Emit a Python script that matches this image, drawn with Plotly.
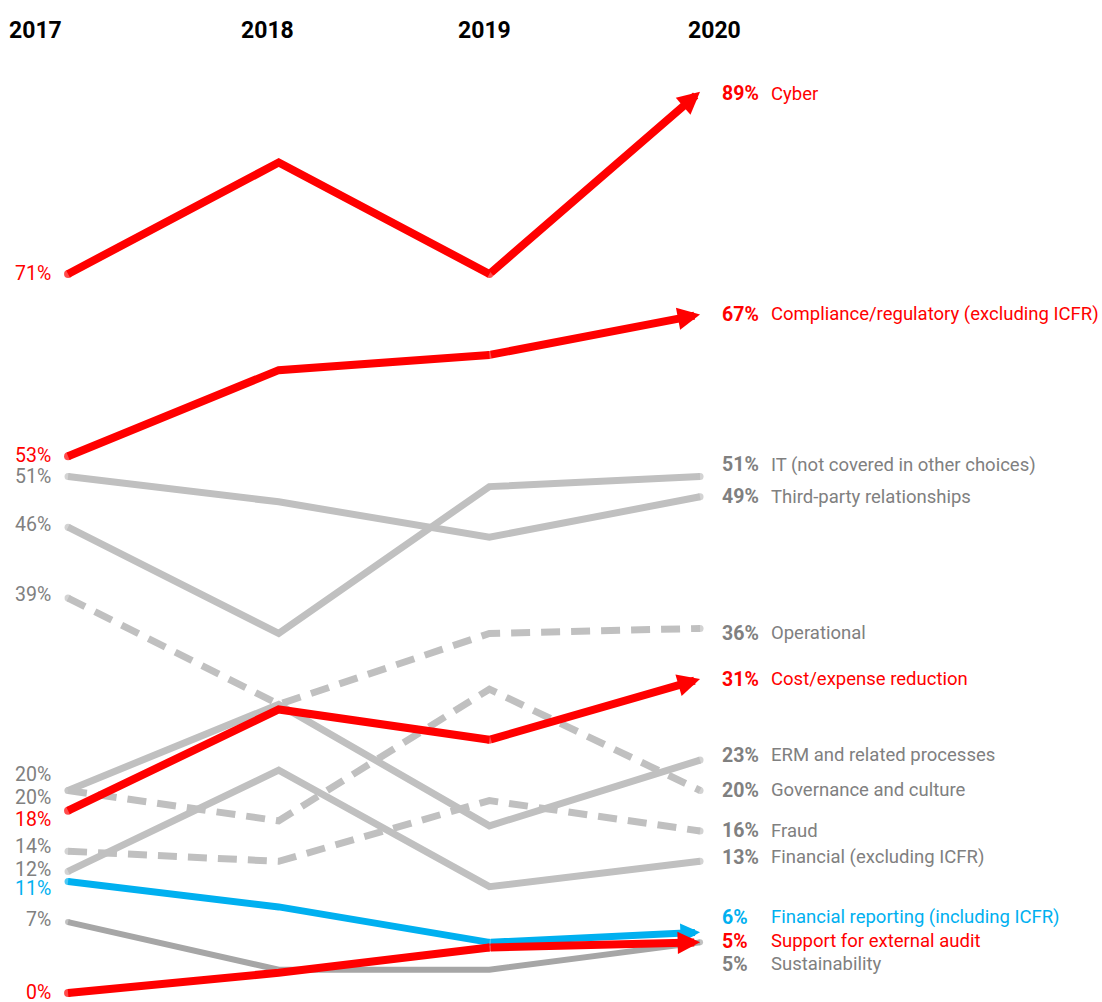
import plotly.graph_objects as go

# ---- data -------------------------------------------------------------
years = [2017, 2018, 2019, 2020]
year_labels = ["2017", "2018", "2019", "2020"]

cyber = [71, 82, 71, 89]
compliance = [53, 61.5, 63, 67]
it_other = [46, 35.5, 50, 51]
third_party = [51, 48.5, 45, 49]
operational = [39, 28.5, 35.5, 36]
cost_reduction = [18, 28, 25, 31]
erm = [20, 28.5, 16.5, 23]
governance = [20, 17, 30, 20]
fraud = [14, 13, 19, 16]
financial = [12, 22, 10.5, 13]
financial_reporting = [11, 8.5, 5, 6]
external_audit = [0, 2, 4.5, 5]
sustainability = [7, 2.3, 2.3, 5]

series_names = [
    "IT (not covered in other choices)",
    "Third-party relationships",
    "ERM and related processes",
    "Financial (excluding ICFR)",
    "Operational",
    "Governance and culture",
    "Fraud",
    "Sustainability",
    "Financial reporting (including ICFR)",
    "Cost/expense reduction",
    "Compliance/regulatory (excluding ICFR)",
    "Cyber",
    "Support for external audit",
]
series_values = [
    it_other, third_party, erm, financial, operational, governance, fraud,
    sustainability, financial_reporting, cost_reduction, compliance, cyber,
    external_audit,
]

# ---- styling ----------------------------------------------------------
RED = "#ff0000"
GRAY = "#c0c0c0"
DARK_GRAY = "#a6a6a6"
BLUE = "#00b0f0"
TEXT_GRAY = "#808080"
FONT = "Roboto, Liberation Sans Narrow, Arial Narrow, sans-serif"
LABEL_SIZE = 18.5
VALUE_SIZE = 19.5
DASH = "19px,11px"

# line colour, text colour, width, dash, arrow, left/right label nudge (px, up)
styles = {
    "IT (not covered in other choices)": (GRAY, TEXT_GRAY, 7, "solid", False, 3, 12),
    "Third-party relationships": (GRAY, TEXT_GRAY, 7, "solid", False, 0, 0),
    "ERM and related processes": (GRAY, TEXT_GRAY, 7, "solid", False, 16, 5),
    "Financial (excluding ICFR)": (GRAY, TEXT_GRAY, 7, "solid", False, 2, 4),
    "Operational": (GRAY, TEXT_GRAY, 7, DASH, False, 4, -5),
    "Governance and culture": (GRAY, TEXT_GRAY, 7, DASH, False, -7, 0),
    "Fraud": (GRAY, TEXT_GRAY, 7, DASH, False, 5, 0),
    "Sustainability": (DARK_GRAY, TEXT_GRAY, 6, "solid", False, 3, -22),
    "Financial reporting (including ICFR)": (BLUE, BLUE, 7, "solid", True, -7, 15),
    "Cost/expense reduction": (RED, RED, 8, "solid", True, -9, 0),
    "Compliance/regulatory (excluding ICFR)": (RED, RED, 8, "solid", True, 1, 0),
    "Cyber": (RED, RED, 8, "solid", True, 0, -2),
    "Support for external audit": (RED, RED, 8, "solid", True, 1, 1),
}

fig = go.Figure()
arrows = []
labels = []

for name, vals in zip(series_names, series_values):
    color, tcolor, width, dash, arrow, lshift, rshift = styles[name]
    if arrow:
        # last segment is drawn as an arrow annotation
        xs, ys = years[:-1], vals[:-1]
        arrows.append((name, vals, color, width))
    else:
        xs, ys = years, vals
    sizes = [width] + [0] * (len(xs) - 2) + [width]
    fig.add_trace(go.Scatter(
        x=xs, y=ys, mode="lines+markers",
        line=dict(color=color, width=width, dash=dash),
        marker=dict(size=sizes, color=color, line=dict(width=0)),
        hoverinfo="skip", name=name,
    ))
    labels.append((name, vals, tcolor, lshift, rshift))

for name, vals, color, width in arrows:
    fig.add_annotation(
        x=years[-1], y=vals[-1], ax=years[-2], ay=vals[-2],
        xref="x", yref="y", axref="x", ayref="y",
        text="", showarrow=True, arrowhead=2, arrowsize=0.56,
        arrowwidth=width, arrowcolor=color, standoff=0, startstandoff=0,
    )

for name, vals, tcolor, lshift, rshift in labels:
    # start value on the left
    fig.add_annotation(
        x=years[0], y=vals[0], xref="x", yref="y", text=f"{vals[0]:g}%",
        showarrow=False, xanchor="right", yanchor="middle",
        xshift=-15, yshift=lshift,
        font=dict(family=FONT, size=VALUE_SIZE, color=tcolor),
    )
    # end value and series name on the right
    fig.add_annotation(
        x=years[-1], y=vals[-1], xref="x", yref="y", text=f"<b>{vals[-1]:g}%</b>",
        showarrow=False, xanchor="left", yanchor="middle",
        xshift=20, yshift=rshift,
        font=dict(family=FONT, size=VALUE_SIZE, color=tcolor),
    )
    fig.add_annotation(
        x=years[-1], y=vals[-1], xref="x", yref="y", text=name,
        showarrow=False, xanchor="left", yanchor="middle",
        xshift=69, yshift=rshift,
        font=dict(family=FONT, size=LABEL_SIZE, color=tcolor),
    )

# year headers
year_shifts = [-33, -11, -5, 14]
for yr, lab, xs in zip(years, year_labels, year_shifts):
    fig.add_annotation(
        x=yr, y=0.970, xref="x", yref="paper", text=f"<b>{lab}</b>",
        showarrow=False, xanchor="center", yanchor="middle", xshift=xs,
        font=dict(family=FONT, size=23, color="#000000"),
    )

fig.update_layout(
    width=1102, height=1002,
    margin=dict(l=0, r=0, t=0, b=0),
    paper_bgcolor="white", plot_bgcolor="white",
    showlegend=False,
    xaxis=dict(range=[2016.677, 2021.908], visible=False, fixedrange=True),
    yaxis=dict(range=[-0.889, 98.05], visible=False, fixedrange=True),
)

fig.write_html("out.html")
